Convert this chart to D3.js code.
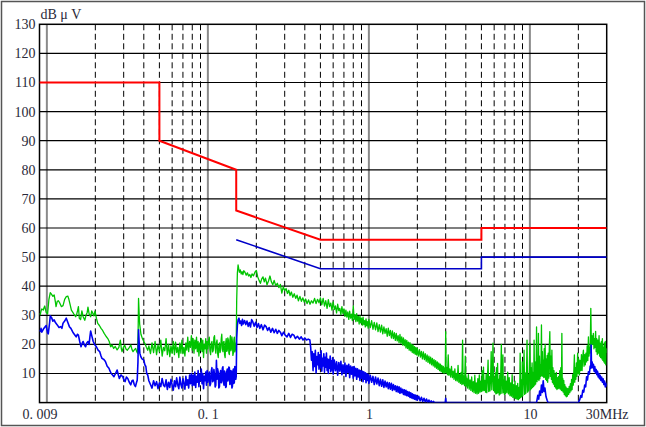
<!DOCTYPE html>
<html>
<head>
<meta charset="utf-8">
<script src="https://cdn.jsdelivr.net/npm/d3@7"></script>
<style>
html,body{margin:0;padding:0;background:#fff;}
svg{display:block;}
</style>
</head>
<body>
<svg id="chart" width="646" height="427"></svg>
<script>
// ---------- data ----------
const yTickValues = [10,20,30,40,50,60,70,80,90,100,110,120,130];
const yTickLabels = ["10","20","30","40","50","60","70","80","90","100","110","120","130"];
const xTickValues = [0.009,0.1,1,10,30];
const xTickLabels = ["0. 009","0. 1","1","10","30MHz"];
const decadeLines = [0.01,0.1,1,10];
const minorLines = [0.02,0.03,0.04,0.05,0.06,0.07,0.08,0.09,
                    0.2,0.3,0.4,0.5,0.6,0.7,0.8,0.9,
                    2,3,4,5,6,7,8,9,20];
const unitLabel = "dB μ V";

// quasi-peak limit (MHz, dBµV)
const qpLimit = [[0.009,110],[0.05,110],[0.05,90],[0.15,80],[0.15,66],[0.5,56],[5,56],[5,60],[30,60]];
// average limit
const avLimit = [[0.15,56],[0.5,46],[5,46],[5,50],[30,50]];

// measured peak trace (green)
const greenTrace = [
[0.0090,30.7],[0.0091,30.2],[0.0092,31.5],[0.0093,32.2],[0.0095,31.8],[0.0096,32.6],[0.0097,33.2],[0.0099,31.0],[0.0101,30.5],
[0.0103,35.5],[0.0105,37.8],[0.0107,37.2],[0.0109,36.5],[0.0111,37.0],[0.0113,34.5],[0.0114,33.0],[0.0116,34.8],[0.0118,35.0],
[0.0120,34.3],[0.0123,33.0],[0.0126,33.3],[0.0129,35.5],[0.0132,36.4],[0.0135,36.6],[0.0137,35.5],[0.0139,34.0],[0.0142,31.8],
[0.0145,31.0],[0.0148,30.2],[0.0151,29.5],[0.0153,30.2],[0.0155,31.5],[0.0157,33.0],[0.0159,29.0],[0.0162,28.5],[0.0165,31.5],
[0.0168,29.5],[0.0172,28.3],[0.0175,30.0],[0.0178,31.0],[0.0180,32.8],[0.0183,30.5],[0.0187,29.5],[0.0190,31.5],[0.0193,30.7],
[0.0196,29.8],[0.0199,31.4],[0.0203,29.0],[0.0207,27.2],[0.0212,26.5],[0.0217,25.5],[0.0222,24.8],[0.0227,23.8],[0.0233,22.8],
[0.0239,22.0],[0.0244,21.0],[0.0249,19.2],[0.0254,19.8],[0.0260,18.6],[0.0266,19.3],[0.0273,18.1],[0.0280,19.0],[0.0286,21.5],
[0.0290,18.5],[0.0293,17.5],[0.0298,18.8],[0.0304,19.8],[0.0310,18.4],[0.0316,18.0],[0.0324,18.8],[0.0332,19.8],[0.0338,18.2],
[0.0343,17.5],[0.0350,18.2],[0.0356,18.6],[0.0361,17.6],[0.0366,17.0],[0.0369,25.0],[0.0371,35.8],[0.0374,31.0],[0.0377,27.0],
[0.0384,23.5],[0.0392,22.0],[0.0400,21.0],[0.0407,20.2],[0.0415,19.0],[0.0423,18.0],
[0.043,19.5],[0.044,16.8],[0.045,20.5],[0.046,17.2],[0.047,21.0],[0.048,16.5],[0.049,19.8],[0.050,17.5],[0.051,21.5],[0.052,16.0],
[0.053,19.0],[0.054,17.8],[0.055,22.0],[0.056,16.5],[0.057,20.0],[0.058,15.8],[0.059,19.5],[0.060,17.0],[0.061,21.0],[0.062,16.5],
[0.063,20.8],[0.064,17.2],[0.065,19.0],[0.066,15.5],[0.067,20.5],[0.068,17.0],[0.069,21.5],[0.070,16.8],[0.071,19.0],[0.072,16.0],
[0.073,20.5],[0.074,18.0],[0.075,22.5],[0.076,17.5],[0.077,21.0],[0.078,19.0],[0.079,23.0],[0.080,18.0],[0.081,22.0],[0.082,17.0],
[0.083,21.5],[0.084,18.5],[0.085,22.5],[0.086,17.5],[0.087,21.0],[0.088,16.0],[0.089,20.5],[0.090,18.0],[0.091,22.0],[0.092,17.5],
[0.093,21.5],[0.094,15.5],[0.095,20.0],[0.096,18.5],[0.097,22.0],[0.098,17.0],[0.099,21.0],[0.100,18.5],[0.101,21.2],[0.102,22.5],
[0.103,17.8],[0.104,16.5],[0.105,20.2],[0.106,21.0],[0.107,17.4],[0.108,18.0],[0.109,22.4],[0.110,23.0],[0.111,18.8],[0.112,17.0],
[0.113,20.6],[0.114,21.5],[0.115,16.8],[0.116,15.5],[0.117,19.6],[0.118,20.5],[0.119,17.2],[0.120,18.0],[0.121,21.8],[0.122,23.5],
[0.123,18.6],[0.124,17.5],[0.125,20.8],[0.126,21.0],[0.127,16.4],[0.128,15.5],[0.129,20.4],[0.130,22.0],[0.131,17.6],[0.132,18.0],
[0.133,22.2],[0.134,21.5],[0.135,17.0],[0.136,16.5],[0.137,21.4],[0.138,23.0],[0.139,17.8],[0.140,18.5],[0.141,22.6],[0.142,21.0],
[0.143,16.2],[0.144,17.0],[0.145,21.6],[0.146,22.5],[0.147,17.4],[0.148,18.0],[0.149,20.0],
[0.1500,21.0],[0.1510,35.0],[0.1525,44.5],[0.1540,47.3],[0.1555,46.0],[0.1570,44.8],[0.1590,45.6],[0.1610,44.2],[0.1630,45.0],
[0.1650,44.0],[0.1670,45.3],[0.1700,44.8],[0.1730,43.8],[0.1760,44.6],[0.1790,43.5],[0.1820,44.0],[0.1850,43.0],[0.1880,44.2],
[0.1920,43.6],[0.1960,44.8],[0.2000,45.4],[0.2040,43.2],[0.2080,42.0],[0.2120,41.0],[0.2160,42.5],[0.2200,43.2],[0.2240,41.5],
[0.2280,42.8],[0.2330,40.5],[0.2380,41.8],[0.2430,43.5],[0.2480,41.5],[0.2530,40.5],[0.2580,42.0],[0.2640,40.2],[0.2700,41.0],
[0.2760,39.5],[0.2820,40.6],[0.2880,37.6],[0.2940,39.8],[0.3000,38.5],[0.3060,39.2],[0.3120,37.5],[0.3180,38.6],[0.3240,36.8],
[0.3300,38.0],[0.3370,36.2],[0.3440,37.4],[0.3510,35.8],[0.3580,36.9],[0.3650,35.0],[0.3730,36.5],[0.3810,34.8],[0.3890,36.0],
[0.3970,34.5],[0.4050,35.6],[0.4130,34.0],[0.4220,35.3],[0.4310,33.8],[0.4400,35.0],[0.4500,34.2],[0.4600,35.8],[0.4700,34.0],
[0.4800,35.5],[0.4900,34.3],
[0.50,36.0],[0.51,33.6],[0.52,35.8],[0.53,33.2],[0.54,35.0],[0.55,32.4],[0.56,35.4],[0.57,33.0],[0.58,34.2],[0.59,31.8],
[0.60,34.6],[0.61,32.0],[0.62,33.2],[0.63,30.8],[0.64,33.8],[0.65,31.6],[0.66,32.4],[0.67,30.2],[0.68,33.0],[0.69,30.6],
[0.70,32.2],[0.71,29.6],[0.72,31.8],[0.73,29.4],[0.74,31.2],[0.75,28.6],[0.76,31.4],[0.77,29.0],[0.78,30.4],[0.79,28.2],
[0.80,33.2],[0.81,28.6],[0.82,30.2],[0.83,27.8],[0.84,30.6],[0.85,28.0],[0.86,29.6],[0.87,27.0],[0.88,29.8],[0.89,27.4],
[0.90,29.0],[0.91,26.6],[0.92,29.4],[0.93,26.8],[0.94,28.2],[0.95,26.0],[0.96,28.8],[0.97,26.4],[0.98,27.8],[0.99,25.6],
[1.00,28.6],[1.02,25.8],[1.04,28.2],[1.06,25.2],[1.08,27.6],[1.10,25.0],[1.12,27.4],[1.14,24.4],[1.16,26.8],[1.18,24.2],
[1.20,26.6],[1.22,23.6],[1.24,26.0],[1.26,23.8],[1.28,25.4],[1.30,22.8],[1.32,25.6],[1.34,23.0],[1.36,24.8],[1.38,22.2],
[1.40,24.6],[1.42,22.0],[1.44,24.0],[1.46,21.4],[1.48,23.8],[1.50,21.2],[1.52,23.0],[1.54,20.6],[1.56,23.4],[1.58,20.4],
[1.60,22.6],[1.62,19.8],[1.64,22.2],[1.66,19.6],[1.68,21.6],[1.70,18.8],[1.72,21.4],[1.74,18.6],[1.76,20.8],[1.78,18.0],
[1.80,20.6],[1.82,17.8],[1.84,20.0],[1.86,17.2],[1.88,19.8],[1.90,17.0],[1.92,19.2],[1.94,16.6],[1.96,19.0],[1.98,16.4],
[2.00,18.6],[2.03,16.0],[2.06,18.2],[2.09,15.6],[2.12,17.6],[2.15,15.0],[2.18,17.4],[2.21,14.8],[2.24,16.8],[2.27,14.2],
[2.30,16.4],[2.33,13.8],[2.36,16.0],[2.39,13.4],[2.42,15.6],[2.45,13.0],[2.48,15.2],[2.51,12.6],[2.54,14.8],[2.57,12.2],
[2.60,14.4],[2.63,11.8],[2.66,14.0],[2.69,11.4],[2.72,13.6],[2.75,11.0],[2.78,13.2],[2.81,10.6],[2.84,12.8],[2.87,10.4],
[2.90,12.4],[2.93,10.0],[2.96,12.0],[2.98,10.5],
[3.00,24.4],[3.02,10.2],[3.05,12.0],[3.08,9.6],[3.11,16.4],[3.14,9.4],[3.18,11.6],[3.22,8.8],[3.26,12.4],[3.30,8.6],
[3.34,10.8],[3.38,8.0],[3.42,11.6],[3.46,7.6],[3.50,10.0],[3.54,7.4],[3.58,12.8],[3.62,7.0],[3.66,9.6],[3.70,6.6],
[3.74,10.4],[3.78,6.2],[3.82,21.5],[3.85,6.4],[3.89,9.2],[3.93,5.8],[3.97,16.0],[4.01,5.6],[4.05,8.4],[4.10,5.0],
[4.15,9.6],[4.20,4.6],[4.25,7.8],[4.30,4.2],[4.35,8.8],[4.40,3.8],[4.45,7.2],[4.50,3.4],[4.55,9.4],[4.60,3.2],
[4.65,6.8],[4.70,3.0],[4.75,8.2],[4.80,3.2],[4.85,9.5],[4.90,3.6],[4.95,7.4],[5.00,3.8],[5.05,11.0],[5.10,4.0],
[5.15,12.2],[5.20,4.2],[5.25,7.6],[5.30,3.6],[5.35,9.8],[5.40,3.4],[5.45,8.4],[5.50,14.6],[5.55,3.8],[5.60,9.0],
[5.65,4.0],[5.70,8.2],[5.75,17.5],[5.80,4.4],[5.85,9.2],[5.90,20.4],[5.95,4.2],[6.00,8.6],[6.05,3.6],[6.10,10.2],
[6.15,3.0],[6.20,12.0],[6.25,3.2],[6.30,13.5],[6.35,3.4],[6.40,8.0],[6.45,2.6],[6.50,9.5],[6.55,3.0],[6.60,11.5],
[6.65,20.0],[6.70,3.2],[6.75,8.4],[6.80,16.4],[6.85,3.4],[6.90,7.6],[6.95,2.8],[7.00,9.0],[7.05,3.0],[7.12,7.4],
[7.20,3.4],[7.28,10.5],[7.36,3.0],[7.44,8.6],[7.52,2.4],[7.60,6.8],[7.68,2.2],[7.76,9.6],[7.84,1.8],[7.92,6.2],
[8.00,1.6],[8.08,7.4],[8.16,1.4],[8.24,5.8],[8.32,1.2],[8.40,6.6],[8.48,1.0],[8.56,5.2],[8.64,1.4],[8.70,17.0],
[8.76,1.8],[8.84,7.8],[8.92,2.0],[8.97,14.0],[9.04,2.4],[9.12,8.8],[9.20,18.0],[9.28,2.8],[9.36,10.2],[9.44,3.2],
[9.52,8.4],[9.60,21.5],[9.68,3.6],[9.76,9.6],[9.84,4.0],[9.92,11.4],[10.00,20.4],[10.08,4.4],[10.16,12.0],[10.24,4.8],
[10.32,13.6],[10.40,5.2],[10.48,10.4],[10.56,5.6],[10.62,21.5],[10.70,6.0],[10.78,14.0],[10.86,6.4],[10.94,12.0],[11.00,26.0],
[11.08,7.2],[11.15,15.0],[11.22,8.0],[11.30,23.8],[11.38,7.6],[11.46,16.0],[11.54,8.2],[11.62,13.0],[11.70,9.0],[11.80,26.7],
[11.88,9.4],[11.96,17.5],[12.04,9.0],[12.12,14.5],[12.20,8.6],[12.28,18.5],[12.36,8.8],[12.44,20.0],[12.52,8.0],[12.60,15.0],
[12.70,7.6],[12.80,16.2],[12.90,7.0],[13.00,17.0],[13.10,8.4],[13.20,19.0],[13.30,24.4],[13.40,9.0],[13.50,16.0],[13.60,8.0],
[13.70,18.0],[13.80,7.0],[13.90,12.0],[14.00,6.4],[14.12,11.0],[14.24,5.5],[14.36,9.8],[14.48,5.0],[14.60,10.4],[14.72,4.5],
[14.84,8.6],[14.96,4.8],[15.08,9.0],[15.20,5.0],[15.32,11.0],[15.44,4.6],[15.56,12.0],[15.70,4.2],[15.80,23.8],[15.90,4.0],
[16.00,8.4],[16.12,3.6],[16.24,7.6],[16.36,2.8],[16.48,6.2],[16.60,2.4],[16.72,5.4],[16.84,2.0],[16.96,5.0],[17.10,2.2],
[17.25,4.8],[17.40,2.8],[17.55,5.6],[17.70,3.4],[17.85,6.5],[18.00,4.0],[18.15,8.0],[18.30,4.5],[18.45,9.6],[18.60,6.0],
[18.75,10.8],[18.90,16.4],[19.00,7.0],[19.15,12.0],[19.30,8.0],[19.45,13.6],[19.60,9.0],[19.80,17.0],[19.95,10.0],[20.10,15.0],
[20.30,9.5],[20.50,14.5],[20.70,11.0],[20.90,16.5],[21.10,11.0],[21.30,15.8],[21.50,18.0],[21.70,12.5],[21.90,16.5],[22.10,13.0],
[22.30,17.0],[22.50,14.0],[22.70,19.5],[22.90,14.5],[23.10,22.6],[23.30,16.0],[23.50,19.0],[23.70,17.0],[23.90,32.4],[24.10,19.0],
[24.30,23.0],[24.50,20.0],[24.80,23.8],[25.00,18.5],[25.20,22.0],[25.40,19.0],[25.60,24.5],[25.80,17.5],[26.00,22.0],[26.20,16.5],
[26.40,21.5],[26.60,17.0],[26.90,23.0],[27.10,16.0],[27.30,20.4],[27.50,15.5],[27.80,21.0],[28.00,15.0],[28.20,22.0],[28.40,14.5],
[28.60,19.0],[28.80,14.0],[29.00,20.5],[29.20,13.5],[29.40,21.0],[29.60,13.0],[29.80,18.5],[30.00,17.0]
];

// measured average trace (blue)
const blueTrace = [
[0.0090,25.0],[0.0091,24.5],[0.0092,25.5],[0.0093,24.2],[0.0095,25.2],[0.0097,25.9],[0.0099,26.5],[0.0101,24.0],[0.0102,23.6],
[0.0104,27.5],[0.0105,29.8],[0.0107,29.2],[0.0109,28.0],[0.0111,28.4],[0.0113,27.5],[0.0116,26.7],[0.0119,25.8],[0.0122,26.1],
[0.0124,25.5],[0.0126,27.3],[0.0129,28.0],[0.0132,29.0],[0.0135,27.5],[0.0138,26.1],[0.0141,25.5],[0.0145,24.2],[0.0148,23.5],
[0.0152,22.6],[0.0155,23.5],[0.0157,23.2],[0.0160,21.0],[0.0163,19.2],[0.0166,20.5],[0.0168,21.0],[0.0171,19.8],[0.0174,19.2],
[0.0177,20.5],[0.0180,21.0],[0.0183,20.0],[0.0185,22.5],[0.0187,24.6],[0.0190,23.0],[0.0194,21.0],[0.0198,20.0],[0.0203,19.2],
[0.0208,18.0],[0.0213,17.5],[0.0217,16.0],[0.0220,15.2],[0.0226,14.8],[0.0231,14.1],[0.0237,12.5],[0.0243,11.8],[0.0247,10.8],
[0.0251,10.0],[0.0256,9.5],[0.0261,8.9],[0.0267,10.0],[0.0273,11.2],[0.0278,9.5],[0.0282,8.3],[0.0289,9.5],[0.0296,8.9],
[0.0301,7.8],[0.0306,7.2],[0.0312,8.8],[0.0318,8.3],[0.0325,7.0],[0.0332,6.1],[0.0338,7.5],[0.0343,7.7],[0.0349,6.2],
[0.0355,5.5],[0.0360,6.8],[0.0364,7.7],[0.0368,14.0],[0.0371,25.0],[0.0374,21.0],[0.0378,17.0],[0.0383,15.8],[0.0390,15.0],
[0.0400,14.6],[0.0406,13.0],[0.0412,12.4],[0.0417,10.0],[0.0423,9.5],[0.0430,7.5],
[0.044,6.2],[0.045,5.0],[0.046,7.5],[0.047,5.8],[0.048,7.2],[0.049,4.8],[0.050,6.8],[0.051,5.5],[0.052,8.3],[0.053,6.0],
[0.054,5.5],[0.055,7.8],[0.056,4.5],[0.057,7.0],[0.058,5.2],[0.059,8.0],[0.060,6.0],[0.061,4.3],[0.062,7.5],[0.063,5.5],
[0.064,8.5],[0.065,6.0],[0.066,4.8],[0.067,8.8],[0.068,6.2],[0.069,5.0],[0.070,8.2],[0.071,6.5],[0.072,4.6],[0.073,9.0],
[0.074,6.0],[0.075,7.8],[0.076,5.0],[0.077,9.5],[0.078,6.5],[0.079,10.0],[0.080,5.8],[0.081,9.5],[0.082,6.0],[0.083,10.5],
[0.084,5.2],[0.085,9.0],[0.086,7.0],[0.087,11.0],[0.088,5.5],[0.089,9.8],[0.090,7.5],[0.091,11.5],[0.092,6.5],[0.093,10.0],
[0.094,4.8],[0.095,9.0],[0.096,7.5],[0.097,10.5],[0.098,6.0],[0.099,11.0],[0.100,7.0],[0.101,9.2],[0.102,10.5],[0.103,5.8],
[0.104,6.5],[0.105,10.8],[0.106,12.0],[0.107,7.2],[0.108,7.5],[0.109,11.4],[0.110,9.5],[0.111,5.4],[0.112,6.0],[0.113,14.5],
[0.114,8.0],[0.115,11.6],[0.116,10.5],[0.117,5.0],[0.118,5.5],[0.119,9.8],[0.120,11.0],[0.121,6.8],[0.122,7.5],[0.123,11.8],
[0.124,12.3],[0.125,7.0],[0.126,6.0],[0.127,10.8],[0.128,10.0],[0.129,5.2],[0.130,5.5],[0.131,10.6],[0.132,11.5],[0.133,7.4],
[0.134,8.0],[0.135,12.2],[0.136,12.0],[0.137,6.2],[0.138,6.5],[0.139,11.0],[0.140,10.5],[0.141,5.0],[0.142,5.5],[0.143,10.8],
[0.144,11.5],[0.145,6.6],[0.146,7.0],[0.147,12.4],[0.148,12.0],[0.149,8.0],
[0.150,9.0],[0.151,22.0],[0.1525,26.5],[0.154,28.4],[0.156,29.0],[0.158,27.2],[0.160,28.0],[0.162,26.5],[0.164,28.6],[0.166,27.0],
[0.169,28.2],[0.172,26.8],[0.175,28.0],[0.178,26.2],[0.181,27.5],[0.184,26.0],[0.187,28.5],[0.190,27.8],[0.194,26.2],[0.198,27.6],
[0.202,25.8],[0.206,27.2],[0.210,25.5],[0.215,26.8],[0.220,25.0],[0.225,26.6],[0.230,26.1],[0.235,24.8],[0.240,25.8],[0.246,24.2],
[0.252,25.5],[0.258,24.0],[0.264,25.2],[0.270,23.8],[0.276,24.8],[0.282,24.2],[0.288,23.0],[0.295,24.2],[0.302,23.2],[0.310,22.6],
[0.318,23.8],[0.326,22.4],[0.334,23.5],[0.342,23.2],[0.350,22.0],[0.360,22.8],[0.370,21.8],[0.380,22.6],[0.390,21.5],[0.400,22.2],
[0.410,21.5],[0.420,21.8],[0.430,21.5],[0.435,19.0],
[0.440,14.6],[0.445,17.5],[0.450,11.0],[0.455,16.8],[0.460,12.4],[0.465,18.0],[0.470,10.2],[0.475,15.8],[0.480,13.0],[0.485,17.2],
[0.490,11.5],[0.495,16.4],[0.500,12.0],[0.505,17.8],[0.510,10.8],[0.515,15.2],[0.520,12.6],[0.525,16.8],[0.530,10.4],[0.535,15.6],
[0.540,12.2],[0.545,17.0],[0.550,11.0],[0.555,15.0],[0.560,10.0],[0.565,14.8],[0.570,11.8],[0.575,16.0],[0.580,10.6],[0.585,14.4],
[0.590,11.2],[0.595,15.4],
[0.60,9.8],[0.61,14.6],[0.62,11.0],[0.63,14.0],[0.64,9.4],[0.65,13.8],[0.66,10.8],[0.67,14.2],[0.68,9.6],[0.69,13.0],
[0.70,10.2],[0.71,13.6],[0.72,9.0],[0.73,12.8],[0.74,10.4],[0.75,13.2],[0.76,8.6],[0.77,12.6],[0.78,9.8],[0.79,12.2],
[0.80,8.4],[0.81,12.4],[0.82,9.2],[0.83,11.8],[0.84,8.0],[0.85,11.6],[0.86,8.8],[0.87,11.2],[0.88,7.6],[0.89,11.0],
[0.90,8.4],[0.91,10.8],[0.92,7.2],[0.93,10.6],[0.94,8.0],[0.95,10.2],[0.96,6.8],[0.97,10.0],[0.98,7.6],[0.99,9.6],
[1.00,6.6],[1.02,9.4],[1.04,7.0],[1.06,9.0],[1.08,6.2],[1.10,8.8],[1.12,6.4],[1.14,8.4],[1.16,5.8],[1.18,8.0],
[1.20,5.6],[1.22,7.8],[1.24,5.2],[1.26,7.4],[1.28,5.4],[1.30,7.0],[1.32,4.8],[1.34,6.8],[1.36,4.6],[1.38,6.6],
[1.40,4.2],[1.42,6.2],[1.44,4.4],[1.46,5.8],[1.48,3.8],[1.50,5.6],[1.52,3.6],[1.54,5.4],[1.56,3.2],[1.58,5.0],
[1.60,3.4],[1.62,4.6],[1.64,2.8],[1.66,4.4],[1.68,2.6],[1.70,4.2],[1.72,2.4],[1.74,3.8],[1.76,2.2],[1.78,3.6],
[1.80,1.8],[1.82,3.4],[1.84,1.6],[1.86,3.0],[1.88,1.4],[1.90,2.8],[1.92,1.2],[1.94,2.6],[1.96,1.0],[1.98,2.4],
[2.00,0.8],[2.04,2.2],[2.08,0.6],[2.12,1.8],[2.16,0.4],[2.20,1.5],[2.24,0.2],[2.28,1.2],[2.32,0.0],[2.36,0.9],
[2.40,0.0],[2.44,0.6],[2.48,0.0],[2.52,0.4],[2.56,0.0],[2.980,0.0],
[3.000,1.5],[3.020,0.0],
[11.00,0.0],[11.20,2.5],[11.35,1.2],[11.50,4.0],[11.65,2.5],[11.80,6.0],[11.95,3.5],[12.10,7.5],[12.25,3.8],[12.40,5.0],
[12.60,2.0],[12.80,0.8],[12.95,0.0],
[20.00,0.0],[20.40,1.0],[20.70,2.4],[21.00,1.8],[21.30,4.2],[21.60,3.6],[21.90,6.0],[22.20,5.4],[22.50,8.9],[22.80,7.8],
[23.10,10.6],[23.40,9.8],[23.70,12.6],[23.90,11.8],[24.00,19.8],[24.15,12.0],[24.35,14.0],[24.55,12.0],[24.80,13.2],[25.05,10.8],
[25.30,12.4],[25.55,10.2],[25.80,11.4],[26.05,9.6],[26.30,10.8],[26.55,8.8],[26.80,10.0],[27.05,8.2],[27.30,9.4],[27.60,7.6],
[27.90,8.8],[28.20,7.0],[28.50,8.2],[28.80,6.2],[29.10,7.4],[29.40,5.4],[29.70,6.6],[30.00,5.5]
];

// ---------- drawing ----------
const svg = d3.select("#chart");
const W = 646, H = 427;
const x = d3.scaleLog().domain([0.009, 30]).range([39.5, 606.7]);
const y = d3.scaleLinear().domain([0, 130]).range([402.6, 24.3]);
const [x0, x1] = x.range();
const [yb, yt] = y.range();
const FONT = "'Liberation Serif','DejaVu Serif',serif";

svg.append("rect").attr("x", 0).attr("y", 0).attr("width", W).attr("height", H).attr("fill", "#fff");
svg.append("rect").attr("x", 1.5).attr("y", 1.5).attr("width", W - 3).attr("height", H - 3)
  .attr("fill", "none").attr("stroke", "#555").attr("stroke-width", 1.5);

svg.append("defs").append("clipPath").attr("id", "plotClip")
  .append("rect").attr("x", x0).attr("y", yt).attr("width", x1 - x0).attr("height", yb - yt);

const grid = svg.append("g");
grid.selectAll("line.minor").data(minorLines).join("line").attr("class", "minor")
  .attr("x1", d => x(d)).attr("x2", d => x(d)).attr("y1", yt).attr("y2", yb)
  .attr("stroke", "#000").attr("stroke-width", 1).attr("stroke-dasharray", "6,3.5");
grid.selectAll("line.decade").data(decadeLines).join("line").attr("class", "decade")
  .attr("x1", d => x(d)).attr("x2", d => x(d)).attr("y1", yt).attr("y2", yb)
  .attr("stroke", "#8a8a8a").attr("stroke-width", 2);
grid.selectAll("line.h").data(yTickValues.slice(0, -1)).join("line").attr("class", "h")
  .attr("x1", x0).attr("x2", x1).attr("y1", d => y(d)).attr("y2", d => y(d))
  .attr("stroke", "#000").attr("stroke-width", 1.2);

// plot frame (drawn under traces so the zero-level blue trace stays visible)
svg.append("rect").attr("x", x0).attr("y", yt).attr("width", x1 - x0).attr("height", yb - yt)
  .attr("fill", "none").attr("stroke", "#000").attr("stroke-width", 1.5);

const line = d3.line().x(d => x(d[0])).y(d => y(d[1]));
const plot = svg.append("g").attr("clip-path", "url(#plotClip)");
plot.append("path").datum(greenTrace).attr("d", line)
  .attr("fill", "none").attr("stroke", "#00c400").attr("stroke-width", 1.3).attr("stroke-linejoin", "round");
plot.append("path").datum(blueTrace).attr("d", line)
  .attr("fill", "none").attr("stroke", "#0000f0").attr("stroke-width", 1.6).attr("stroke-linejoin", "round");
plot.append("path").datum(avLimit).attr("d", line)
  .attr("fill", "none").attr("stroke", "#0000c8").attr("stroke-width", 1.6);
plot.append("path").datum(qpLimit).attr("d", line)
  .attr("fill", "none").attr("stroke", "#ff0000").attr("stroke-width", 2);

const yAxis = d3.axisLeft(y).tickValues(yTickValues).tickSize(0).tickPadding(4)
  .tickFormat((d, i) => yTickLabels[i]);
const gy = svg.append("g").attr("transform", `translate(${x0},0)`).call(yAxis);
gy.select(".domain").remove();
gy.selectAll("text").attr("font-size", 14).attr("fill", "#2a2a3a").attr("font-family", FONT);

const xAxis = d3.axisBottom(x).tickValues(xTickValues).tickSize(0).tickPadding(6)
  .tickFormat((d, i) => xTickLabels[i]);
const gx = svg.append("g").attr("transform", `translate(0,${yb})`).call(xAxis);
gx.select(".domain").remove();
gx.selectAll("text").attr("font-size", 14).attr("fill", "#2a2a3a").attr("font-family", FONT);

svg.append("text").attr("x", x0 + 1).attr("y", 19).text(unitLabel)
  .attr("font-size", 14).attr("fill", "#2a2a3a").attr("font-family", FONT);
</script>
</body>
</html>
